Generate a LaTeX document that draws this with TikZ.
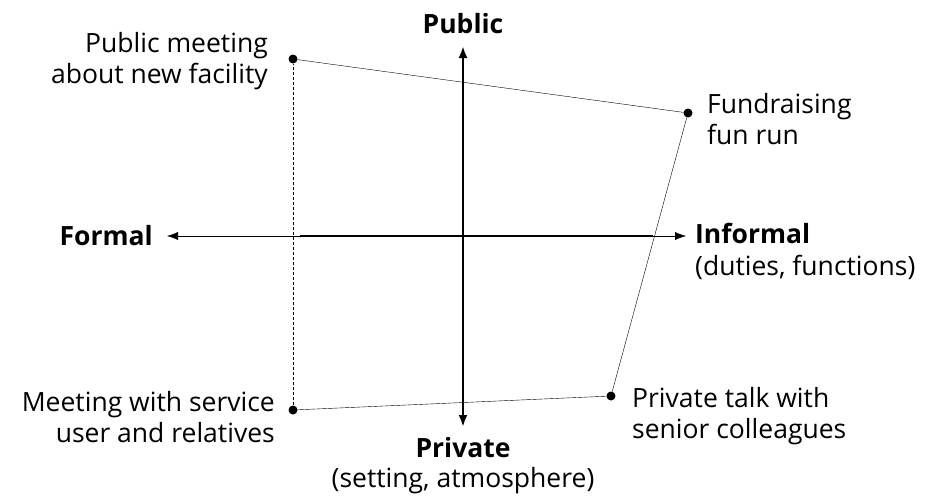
\documentclass[tikz,border=0pt]{standalone}
\usepackage{fontspec}
\setmainfont{Open Sans}
\usetikzlibrary{positioning,arrows.meta}

\begin{document}
\begin{tikzpicture}
  [x=1pt,y=-1pt,
   every node/.style={font=\fontsize{26.5}{31}\selectfont,inner sep=0pt},
   dot/.style={circle,fill=black,minimum size=9pt},
   txt/.style={align=left},
   axis/.style={line width=2.4pt},
   tip/.style={-{Latex[length=11pt,width=8pt]}}]
  \useasboundingbox (0,0) rectangle (925,498);

  % the four situations
  \node[dot] (meet) at (293,59)  {};
  \node[dot] (run)  at (688,113) {};
  \node[dot] (talk) at (611,396) {};
  \node[dot] (user) at (293,410) {};

  % axes
  \coordinate (top) at (463,46);
  \coordinate (bot) at (463,427);
  \coordinate (left) at (167,236);
  \coordinate (right) at (686,236);
  \coordinate (lin) at (300,236);
  \coordinate (rin) at (653,236);
  \draw[axis,{Latex[length=12pt,width=9pt]}-{Latex[length=12pt,width=9pt]}] (bot) -- (top);
  \draw[axis] (lin) -- (rin);
  \draw[tip,thin] (lin) -- (left);
  \draw[tip,thin] (rin) -- (right);

  % the figure joining them
  \draw[thin] (meet) -- (run);
  \draw[thin] (talk) -- (user);
  \draw[thin,densely dashed] (user) -- (meet);
  \draw[thin] (run) -- (talk);

  % axis labels
  \node[anchor=base] (pub) at (463,33) {\textbf{Public}};
  \node[anchor=base east] (frm) at (153,245) {\textbf{Formal}};
  \node[anchor=base west] (inf) at (695,243) {\textbf{Informal}};
  \node[anchor=base west] (duty) at (695,275) {(duties, functions)};
  \node[anchor=base] (prv) at (463,457) {\textbf{Private}};
  \node[anchor=base] (set) at (463,487) {(setting, atmosphere)};

  % situation labels
  \node[align=right,anchor=east] (meetl) at (268,61) {Public meeting\\about new facility};
  \node[txt,anchor=west] (runl) at (707,119) {Fundraising\\fun run};
  \node[align=right,anchor=east] (userl) at (275,417) {Meeting with service\\user and relatives};
  \node[txt,anchor=west] (talkl) at (632,416) {Private talk with\\senior colleagues};
\end{tikzpicture}
\end{document}
